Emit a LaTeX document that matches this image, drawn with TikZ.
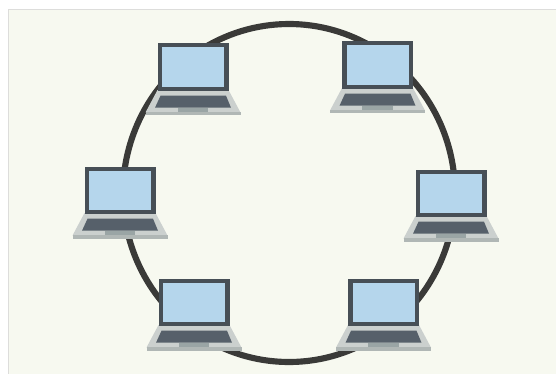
\documentclass[tikz,border=0pt]{standalone}
\definecolor{paper}{HTML}{F7F9F0}
\definecolor{edge}{HTML}{DDDDDB}
\definecolor{cable}{HTML}{3A3A38}
\definecolor{bezel}{HTML}{474F56}
\definecolor{glass}{HTML}{B5D6EC}
\definecolor{chassis}{HTML}{CBD0CE}
\definecolor{lip}{HTML}{B0B7B5}
\definecolor{keys}{HTML}{56606A}
\definecolor{pad}{HTML}{9AA5A5}
\usetikzlibrary{calc}

\begin{document}
\begin{tikzpicture}[x=0.75pt,y=-0.75pt,ring/.style={draw=cable,line width=4.6pt},
laptop/.pic={
\fill[chassis] (-35.5,-1) -- (35.5,-1) -- (47.5,21.5) -- (-47.5,21.5) -- cycle;
\fill[lip] (-47.5,21.3) rectangle (47.5,24.5);
\fill[bezel] (-35.5,-47.5) rectangle (35.5,0);
\fill[glass] (-31,-43.5) rectangle (31,-3.7);
\fill[keys] (-32.5,4.7) -- (33,4.7) -- (38,16.7) -- (-38,16.7) -- cycle;
\fill[pad] (-15.5,17) rectangle (15,20.7);
}]
\useasboundingbox (0,0) rectangle (556,374);
\fill[white] (0,0) rectangle (556,374);
\fill[paper] (8,9) rectangle (556,374);
\draw[edge,line width=0.6pt] (8,374) -- (8,9) -- (556,9);
\coordinate (centre) at (289,193);
\path (centre) ++(-125:166 and 169) coordinate (tlring);
\path (centre) ++(-60:166 and 169) coordinate (trring);
\path (centre) ++(0:166 and 169) coordinate (rring);
\path (centre) ++(50:166 and 169) coordinate (brring);
\path (centre) ++(130:166 and 169) coordinate (blring);
\path (centre) ++(180:166 and 169) coordinate (lring);
\draw[ring] (tlring) arc[start angle=-125,end angle=-60,x radius=166,y radius=169];
\draw[ring] (trring) arc[start angle=-60,end angle=0,x radius=166,y radius=169];
\draw[ring] (rring) arc[start angle=0,end angle=50,x radius=166,y radius=169];
\draw[ring] (brring) arc[start angle=50,end angle=130,x radius=166,y radius=169];
\draw[ring] (blring) arc[start angle=130,end angle=180,x radius=166,y radius=169];
\draw[ring] (lring) arc[start angle=180,end angle=235,x radius=166,y radius=169];
\pic (tl) at (193,91) {laptop};
\pic (tr) at (377.5,89) {laptop};
\pic (l) at (120,214) {laptop};
\pic (r) at (451,217) {laptop};
\pic (bl) at (194,326) {laptop};
\pic (br) at (383.5,326) {laptop};
\end{tikzpicture}
\end{document}
